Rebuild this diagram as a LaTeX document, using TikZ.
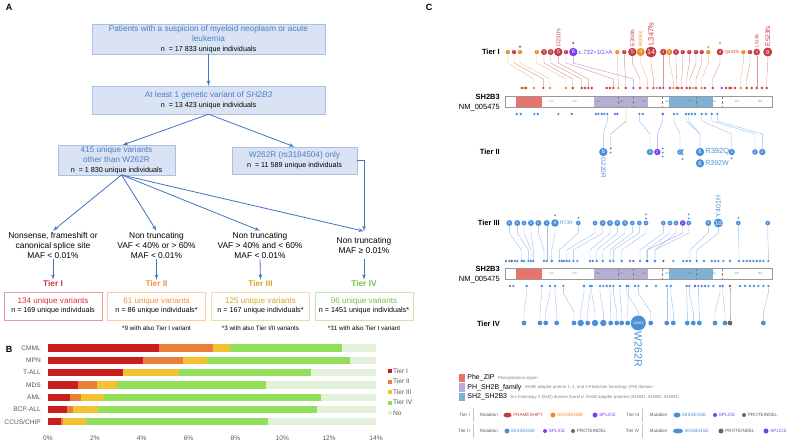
\documentclass[tikz,border=0pt]{standalone}
\usepackage{fontspec}
\setmainfont{Liberation Sans}
\usetikzlibrary{shapes,arrows,calc,positioning}
\definecolor{blueA}{HTML}{4472C4}
\definecolor{blueT}{HTML}{4A7FC8}
\definecolor{boxfill}{HTML}{DAE3F3}
\definecolor{boxline}{HTML}{A9BFE3}
\definecolor{greyT}{HTML}{595959}
\definecolor{tierone}{HTML}{D6333C}
\definecolor{tiertwo}{HTML}{F0903C}
\definecolor{tierthree}{HTML}{D4A72C}
\definecolor{tierfour}{HTML}{74C044}
\definecolor{barone}{HTML}{C81E1E}
\definecolor{bartwo}{HTML}{E8803A}
\definecolor{barthree}{HTML}{F2C230}
\definecolor{barfour}{HTML}{92E05A}
\definecolor{barno}{HTML}{E3F1DC}
\definecolor{fs}{HTML}{C43C43}
\definecolor{ns}{HTML}{F08A24}
\definecolor{sp}{HTML}{7B3FF2}
\definecolor{ms}{HTML}{4A8FD8}
\definecolor{pd}{HTML}{666666}
\definecolor{phe}{HTML}{E8736B}
\definecolor{phd}{HTML}{B7AED6}
\definecolor{shd}{HTML}{7FB0D5}
\tikzstyle{line} = [draw=blueA, line width=0.8pt, -latex']
\tikzstyle{flowbox} = [rectangle, draw=boxline, fill=boxfill, align=center, inner sep=1pt, text=blueT, font=\fontsize{8.2}{10}\selectfont]
\tikzstyle{tierbox} = [rectangle, draw, line width=0.6pt, fill=white, minimum width=98pt, minimum height=28pt, align=center, font=\fontsize{8.1}{9.5}\selectfont]
\tikzstyle{crit} = [align=center, inner sep=1pt, font=\fontsize{8.4}{10}\selectfont]
\tikzstyle{tierlab} = [inner sep=1pt, font=\bfseries\fontsize{8.3}{9}\selectfont]
\tikzstyle{note} = [inner sep=1pt, font=\fontsize{6.3}{7}\selectfont]
\tikzstyle{barlab} = [anchor=east, inner sep=0pt, text=greyT, font=\fontsize{6.6}{7}\selectfont]
\tikzstyle{dot} = [circle, inner sep=0pt, minimum size=2.6pt]
\tikzstyle{lolli} = [circle, inner sep=0pt, text=white]
\tikzstyle{tierC} = [anchor=east, inner sep=0pt, font=\bfseries\fontsize{7.5}{8}\selectfont]
\tikzstyle{legsq} = [rectangle, inner sep=0pt, minimum width=6pt, minimum height=8.5pt]
\tikzstyle{legname} = [anchor=west, inner sep=0pt, font=\fontsize{7}{8}\selectfont]
\tikzstyle{legdesc} = [anchor=west, inner sep=0pt, text=gray, font=\fontsize{4.3}{5}\selectfont]
\tikzstyle{tiny} = [anchor=west, inner sep=0pt, font=\fontsize{4.6}{5}\selectfont]
\pgfdeclarelayer{background}
\pgfsetlayers{background,main}
\newcommand{\nline}[1]{{\color{black}\fontsize{7.2}{8.5}\selectfont #1}}

\begin{document}
\begin{tikzpicture}[x=1pt, y=-1pt]
	\useasboundingbox (0,0) rectangle (790,442);
	
	% panel A
	\node[font=\bfseries\fontsize{9}{10}\selectfont] (letA) at (9,7) {A};
	\node [flowbox, minimum width=233pt, minimum height=28pt] (pat) at (208.5,39) {Patients with a suspicion of myeloid neoplasm or acute\\leukemia\\\nline{n~ = 17~833 unique individuals}};
	\node [flowbox, minimum width=233pt, minimum height=28pt] (gen) at (208.5,100) {At least 1 genetic variant of \textit{SH2B3}\\\nline{n~ = 13~423 unique individuals}};
	\node [flowbox, minimum width=117pt, minimum height=28pt] (oth) at (116.5,160) {415 unique variants\\other than W262R\\\nline{n~ = 1~830 unique individuals}};
	\node [flowbox, minimum width=125pt, minimum height=27pt] (wonly) at (294.5,160.5) {W262R (rs3184504) only\\\nline{n~ = 11~589 unique individuals}};
	
	\node [crit] (crit1) at (53,245) {Nonsense, frameshift or\\canonical splice site\\MAF < 0.01\%};
	\node [crit] (crit2) at (156.5,245) {Non truncating\\VAF < 40\% or > 60\%\\MAF < 0.01\%};
	\node [crit] (crit3) at (260,245) {Non truncating\\VAF > 40\% and < 60\%\\MAF < 0.01\%};
	\node [crit, inner ysep=5.5pt] (crit4) at (364,245) {Non truncating\\MAF ≥ 0.01\%};
	
	\node [tierlab, text=tierone] (lab1) at (53,284) {Tier I};
	\node [tierlab, text=tiertwo] (lab2) at (156.5,284) {Tier II};
	\node [tierlab, text=tierthree] (lab3) at (260.5,284) {Tier III};
	\node [tierlab, text=tierfour] (lab4) at (364,284) {Tier IV};
	
	\node [tierbox, draw=tierone!50] (box1) at (53,306) {\textcolor{tierone}{134 unique variants}\\\nline{n = 169 unique individuals}};
	\node [tierbox, draw=tiertwo!45] (box2) at (156.5,306) {\textcolor{tiertwo}{61 unique variants}\\\nline{n = 86 unique individuals*}};
	\node [tierbox, draw=tierthree!40] (box3) at (260.5,306) {\textcolor{tierthree}{125 unique variants}\\\nline{n = 167 unique individuals*}};
	\node [tierbox, draw=tierfour!40] (box4) at (364,306) {\textcolor{tierfour}{96 unique variants}\\\nline{n = 1451 unique individuals*}};
	
	\node [note] (note2) at (156.5,328) {*9 with also Tier I variant};
	\node [note] (note3) at (260.5,328) {*3 with also Tier I/II variants};
	\node [note] (note4) at (364,328) {*31 with also Tier I variant};
	
	\path [line] (pat.south) -- (gen.north);
	\path [line] (gen.south) -- ([xshift=6pt]oth.north);
	\path [line] (gen.south) -- (wonly.north);
	\path [line] ([xshift=5pt]oth.south) -- (crit1.north);
	\path [line] ([xshift=5pt]oth.south) -- (crit2.north);
	\path [line] ([xshift=5pt]oth.south) -- (crit3.north);
	\path [line] ([xshift=5pt]oth.south) -- (crit4.north);
	\path [line] (wonly.east) -| (crit4.north);
	\foreach \k in {1,2,3,4}
		\path [line] (crit\k.south) -- (lab\k.north);
	
	% panel B
	\node[font=\bfseries\fontsize{9}{10}\selectfont] (letB) at (9,349) {B};
	\foreach \nm/\ra/\ob/\yc/\gd [count=\i] in {CMML/4.75/7.03/7.77/12.53, MPN/4.07/5.75/6.8/12.89, T-ALL/3.21/3.21/5.6/11.21, MDS/1.29/2.08/2.93/9.3, AML/0.94/1.41/2.39/11.64, BCP-ALL/0.8/1.05/2.12/11.47, {CCUS/CHIP}/0.54/0.63/1.61/9.38}
	{
		\pgfmathsetmacro\yy{348+12.3*(\i-1)}
		\node[barlab] (cat\i) at (41,\yy) {\nm};
		\fill[barno] (48,{\yy-3.6}) rectangle (376,{\yy+3.6});
		\fill[barfour] (48,{\yy-3.6}) rectangle ({48+\gd*23.43},{\yy+3.6});
		\fill[barthree] (48,{\yy-3.6}) rectangle ({48+\yc*23.43},{\yy+3.6});
		\fill[bartwo] (48,{\yy-3.6}) rectangle ({48+\ob*23.43},{\yy+3.6});
		\fill[barone] (48,{\yy-3.6}) rectangle ({48+\ra*23.43},{\yy+3.6});
	}
	\foreach \tk in {0,2,...,14}
		\node[barlab, anchor=center] (tick\tk) at ({48+\tk*23.43},438) {\tk\%};
	\foreach \lg/\cl [count=\j] in {Tier I/barone, Tier II/bartwo, Tier III/barthree, Tier IV/barfour, No/barno}
	{
		\pgfmathsetmacro\ly{371+10.5*(\j-1)}
		\node[rectangle, fill=\cl, minimum size=4pt, inner sep=0pt] (lg\j) at (389.5,\ly) {};
		\node[barlab, anchor=west] at (393,\ly) {\lg};
	}
	
	% panel C
	\node[font=\bfseries\fontsize{9}{10}\selectfont] (letC) at (429,7) {C};
	\foreach \yb in {96,268}
	{
		\fill[white] (505,\yb) rectangle (772,{\yb+11});
		\fill[phe] (516,\yb) rectangle (541.7,{\yb+11});
		\fill[phd] (594,\yb) rectangle (648,{\yb+11});
		\fill[shd] (669,\yb) rectangle (713,{\yb+11});
		\foreach \dl in {618.3,633.3,662.3,695.7,722.3}
			\draw[densely dashed, gray, line width=0.3pt] (\dl,\yb) -- (\dl,{\yb+11});
		\foreach \aa in {50,100,...,550}
			\node[inner sep=0pt, text=gray, font=\fontsize{2.6}{3}\selectfont] at ({505+\aa*0.464},{\yb+5.5}) {\aa};
		\draw[gray!80, line width=0.5pt] (505,\yb) rectangle (772,{\yb+11});
		\node[tierC] at (500,{\yb+1}) {SH2B3};
		\node[tierC, font=\fontsize{7.5}{8}\selectfont] at (500,{\yb+12}) {NM\_005475};
	}
	\node[tierC] (tierI) at (500,52) {Tier I};
	\node[tierC] (tierII) at (500,152) {Tier II};
	\node[tierC] (tierIII) at (500,223) {Tier III};
	\node[tierC] (tierIV) at (500,324) {Tier IV};
	
	% tier I
	\foreach \xd/\ty in {521.7/fs, 524/ns, 526/fs, 585/fs, 591.7/fs, 606.7/fs, 610/fs, 647.3/sp, 656.7/ns, 660/sp, 670/fs, 678.3/fs, 693.3/ns, 705/fs, 721.7/sp, 726/fs, 729.3/fs, 731/fs, 735/fs, 751.7/fs, 762/fs}
		\node[dot, fill=\ty] at (\xd,88) {};
	\foreach \cx/\dx/\r/\ty/\lab [count=\i] in {507.7/534/2.2/ns/2, 514/543.3/2.2/fs/2, 520/550/2.2/ns/2, 536.7/566/2.2/ns/2, 544/572.7/3/fs/3, 550.7/581.7/3/fs/3, 558.3/588.3/4.2/fs/5, 566/613.3/2.2/fs/2, 573.3/633.3/4.2/sp/6, 617.3/618.3/2.2/ns/2, 624.3/625.7/2.2/fs/2, 632.3/640/4.2/fs/5, 640.7/647.3/4/ns/4, 651/653.3/5.5/fs/14, 663.3/663.3/3.2/fs/4, 669.3/673.3/3/ns/3, 676/676.7/3/fs/3, 682.7/681.7/2.2/fs/2, 689.3/686.7/2.2/fs/2, 696/690/2.2/fs/2, 701.7/696/2.2/fs/2, 708.3/701.7/2.2/ns/2, 720/712.7/3.3/fs/4, 743.3/740.7/2.2/ns/2, 750/746.7/2.2/fs/2, 756.7/756.7/3.3/fs/4, 767.7/766.7/4.5/fs/9}
	{
		\pgfmathsetmacro\fsz{1.3*\r}
		\node[dot, fill=\ty] (t1d\i) at (\dx,88) {};
		\node[lolli, fill=\ty, minimum size={2*\r pt}, font=\fontsize{\fsz}{\fsz}\selectfont] (t1c\i) at (\cx,52) {\lab};
		\begin{pgfonlayer}{background}
			\draw[\ty!55, line width=0.4pt] (t1c\i) -- (t1c\i |- 0,63) -- (t1d\i |- 0,79) -- (t1d\i);
		\end{pgfonlayer}
	}
	\foreach \xd/\yd/\ty in {520/46.7/fs, 573.3/43/fs, 708.3/47/ns, 720/43/ns}
		\node[dot, fill=\ty, minimum size=2.2pt] at (\xd,\yd) {};
	\node[rotate=90, anchor=west, inner sep=0.8pt, text=fs, font=\fontsize{7.5}{8}\selectfont] at (t1c14.north) {L347fs};
	\node[rotate=90, anchor=west, inner sep=0.8pt, text=fs, font=\fontsize{6.5}{7}\selectfont] at (t1c27.north) {E523fs};
	\node[rotate=90, anchor=west, inner sep=0.8pt, text=fs, font=\fontsize{5.5}{6}\selectfont] at (t1c12.north) {E304fs};
	\node[rotate=90, anchor=west, inner sep=0.8pt, text=ns, font=\fontsize{5}{6}\selectfont] at (t1c13.north) {R308X};
	\node[rotate=90, anchor=west, inner sep=0.8pt, text=fs, font=\fontsize{5.5}{6}\selectfont] at (t1c7.north) {D231fs};
	\node[rotate=90, anchor=west, inner sep=0.8pt, text=fs, font=\fontsize{4.5}{5}\selectfont] at (t1c26.north) {L510fs};
	\node[anchor=west, inner sep=0.8pt, text=sp, font=\fontsize{6}{7}\selectfont] at (t1c9.east) {c.732+1G>A};
	\node[anchor=west, inner sep=0.8pt, text=fs, font=\fontsize{4.5}{5}\selectfont] at (t1c23.east) {Q442fs};
	
	% tier II
	\foreach \xd/\ty in {516.7/ms, 520.7/ms, 534.3/ms, 537.7/ms, 558.3/ms, 571.7/ms, 596/ms, 598.3/ms, 601.7/ms, 604.3/ms, 615/ms, 617.3/sp, 642.7/ms, 677.3/ms, 691.7/ms, 695/ms, 706/ms}
		\node[dot, fill=\ty] at (\xd,114) {};
	\foreach \cx/\cy/\dx/\r/\ty/\lab [count=\i] in {603.3/152/607.3/4.2/ms/6, 650/152/639.3/3.2/ms/3, 657.3/152/662.7/3.2/sp/2, 680/152/674/2.8/ms/2, 700/152/688.7/4.2/ms/8, 700/163.3/686/4.2/ms/6, 731.7/152/701.7/3.2/ms/3, 755/152/711.7/2.8/ms/2, 762.3/152/717.3/3.2/ms/3}
	{
		\pgfmathsetmacro\fsz{1.3*\r}
		\node[dot, fill=\ty] (t2d\i) at (\dx,114) {};
		\node[lolli, fill=\ty, minimum size={2*\r pt}, font=\fontsize{\fsz}{\fsz}\selectfont] (t2c\i) at (\cx,\cy) {\lab};
		\begin{pgfonlayer}{background}
			\draw[\ty!55, line width=0.4pt] (t2c\i) -- (t2c\i |- 0,134) -- (t2d\i |- 0,121) -- (t2d\i);
		\end{pgfonlayer}
	}
	\node[dot, fill=pd, minimum size=2pt] (t2pd) at (610.7,148.3) {};
	\coordinate (t2pdend) at (626,107.5);
	\begin{pgfonlayer}{background}
		\draw[pd!60, line width=0.4pt] (t2pd) -- (t2pd |- 0,134) -- (t2pdend |- 0,121) -- (t2pdend);
	\end{pgfonlayer}
	\foreach \xd/\yd in {610.7/152.7, 662.7/148.7, 662.7/152.7, 662.7/156.7, 682.7/150, 682.7/154.3, 682.7/159, 731.7/158.3}
		\node[dot, fill=ms, minimum size=2pt] at (\xd,\yd) {};
	\node[rotate=-90, anchor=west, inner sep=0.8pt, text=ms, font=\fontsize{6.5}{7}\selectfont] at (t2c1.south) {G220R};
	\node[anchor=west, inner sep=0.8pt, text=ms, font=\fontsize{7.5}{8}\selectfont] at (t2c5.east) {R392Q};
	\node[anchor=west, inner sep=0.8pt, text=ms, font=\fontsize{7}{8}\selectfont] at (t2c6.east) {R392W};
	
	% tier III
	\foreach \xd/\ty in {506/ms, 509.3/ms, 511.7/pd, 515/ms, 517.3/ms, 524/ms, 551.7/ms, 561.7/ms, 564/ms, 569.3/ms, 577.3/ms, 592.7/ms, 630/ms, 633.3/sp, 663.3/pd, 673.3/ms, 683.3/ms, 686.7/ms, 704/ms, 711.7/ms, 715/ms, 718.3/ms, 723.3/ms, 730/ms, 743.3/ms, 746.7/ms, 750/ms, 753.3/ms, 756.7/ms, 760/ms, 763.3/ms}
		\node[dot, fill=\ty] at (\xd,261) {};
	\foreach \cx/\dx/\r/\ty/\lab [count=\i] in {509.3/521.7/3/ms/3, 517.3/528.3/3/ms/3, 524/531/2.4/ms/2, 531/533.3/3/ms/3, 538.3/544/3/ms/3, 546.7/546.7/3/ms/3, 555/551.7/3.8/ms/4, 578.3/559.3/2.4/ms/2, 595/566.7/2.4/ms/2, 602.7/573.3/3/ms/3, 610/590/3/ms/3, 617.3/596.7/3/ms/3, 625/602.7/3/ms/3, 632.3/610/2.4/ms/2, 639.3/613.3/2.4/ms/2, 646/621.7/2.4/ms/2, 663.3/640/2.4/ms/2, 670/646.7/2.4/ms/2, 676/655/2.4/ms/2, 682.7/647.3/2.8/sp/2, 688.7/655/2.4/ms/2, 708.3/690/3/ms/3, 718.3/696.7/4.5/ms/10, 738.3/739/2.4/ms/2, 767.7/768.3/2.4/ms/2}
	{
		\pgfmathsetmacro\fsz{1.3*\r}
		\node[dot, fill=\ty] (t3d\i) at (\dx,261) {};
		\node[lolli, fill=\ty, minimum size={2*\r pt}, font=\fontsize{\fsz}{\fsz}\selectfont] (t3c\i) at (\cx,223) {\lab};
		\begin{pgfonlayer}{background}
			\draw[\ty!55, line width=0.4pt] (t3c\i) -- (t3c\i |- 0,233) -- (t3d\i |- 0,250) -- (t3d\i);
		\end{pgfonlayer}
	}
	\foreach \xd/\yd in {555/215.3, 578.3/217.7, 646/214.3, 646/218.3, 688.7/214.3, 688.7/218.3, 738.3/218}
		\node[dot, fill=ms, minimum size=2pt] at (\xd,\yd) {};
	\node[anchor=west, inner sep=0.8pt, text=ms, font=\fontsize{5}{6}\selectfont] at (t3c7.east) {R73R};
	\node[rotate=90, anchor=west, inner sep=0.8pt, text=ms, font=\fontsize{7}{8}\selectfont] at (t3c23.north) {Y401H};
	
	% tier IV
	\foreach \xd/\ty in {510/ms, 513.3/ms, 584/ms, 603.3/ms, 606.7/ms, 635/ms, 646.7/ms, 656/ms, 695/sp, 701.7/ms, 705/ms, 708.3/ms, 713.3/ms, 740/ms, 745/ms, 750/ms, 754/ms, 758.3/ms, 763.3/ms}
		\node[dot, fill=\ty] at (\xd,286) {};
	\foreach \cx/\dx/\r/\ty [count=\i] in {524/526.7/2.4/ms, 540/541.7/2.4/ms, 545.7/550/2.4/ms, 556.7/555/2.4/ms, 574/563.3/2.4/ms, 580.7/584/3.2/ms, 587.7/590/2.4/ms, 595/591.7/3.2/ms, 603.3/600/3.2/ms, 610.7/610/2.4/ms, 616.7/613.3/2.4/ms, 621.7/620/2.4/ms, 627.7/628.3/2.4/ms, 650.7/638.3/2.4/ms, 666.7/666.7/2.4/ms, 673.3/670.7/2.4/ms, 687.3/686.7/2.4/ms, 693.3/689.3/2.4/ms, 699.3/698.3/2.4/ms, 715/720/2.4/ms, 725/722.7/2.4/ms, 730/730/2.4/pd, 763.3/768.3/2.4/ms}
	{
		\node[dot, fill=\ty] (t4d\i) at (\dx,286) {};
		\node[lolli, fill=\ty, minimum size={2*\r pt}] (t4c\i) at (\cx,323) {};
		\begin{pgfonlayer}{background}
			\draw[\ty!55, line width=0.4pt] (t4c\i) -- (t4c\i |- 0,312) -- (t4d\i |- 0,293) -- (t4d\i);
		\end{pgfonlayer}
	}
	\node[dot, fill=ms] (wdot) at (626.7,286) {};
	\node[lolli, fill=ms, minimum size=15pt, font=\fontsize{3.8}{4}\selectfont] (wbig) at (638.3,323) {13261};
	\begin{pgfonlayer}{background}
		\draw[ms!55, line width=0.4pt] (wbig) -- (wbig |- 0,312) -- (wdot |- 0,293) -- (wdot);
	\end{pgfonlayer}
	\node[rotate=-90, anchor=west, inner sep=1pt, text=ms, font=\fontsize{10.5}{11}\selectfont] at (wbig.south) {W262R};
	
	% domain legend
	\node[legsq, fill=phe] (sqphe) at (462,378) {};
	\node[legsq, fill=phd, below=0.6pt of sqphe] (sqph) {};
	\node[legsq, fill=shd, below=0.6pt of sqph] (sqsh) {};
	\node[legname, right=2pt of sqphe] (nphe) {Phe\_ZIP};
	\node[legname, right=2pt of sqph] (nph) {PH\_SH2B\_family};
	\node[legname, right=2pt of sqsh] (nsh) {SH2\_SH2B3};
	\node[legdesc, right=3pt of nphe] {Phenylalanine zipper};
	\node[legdesc, right=3pt of nph] {SH2B adapter protein 1, 2, and 3 Pleckstrin homology (PH) domain};
	\node[legdesc, right=3pt of nsh] {Src homology 2 (SH2) domain found in SH2B adapter proteins (SH2B1, SH2B2, SH2B3)};
	
	% mutation legend
	\foreach \tn/\xt/\yt in {Tier I/470/415, Tier II/470/431, Tier III/639.5/415, Tier IV/639.5/431}
	{
		\node[tiny, anchor=east, text=greyT] at (\xt,\yt) {\tn};
		\draw[gray!45, line width=0.5pt] ({\xt+3},{\yt-7}) -- ({\xt+3},{\yt+7});
		\node[tiny, text=greyT] at ({\xt+10},\yt) {Mutation};
	}
	\node[ellipse, fill=fs, minimum width=8pt, minimum height=5pt, inner sep=0pt] (ifs) at (507.5,415) {};
	\node[tiny, text=fs, right=1.5pt of ifs] {FRAMESHIFT};
	\node[dot, fill=ns, minimum size=5pt] (ins) at (553,415) {};
	\node[tiny, text=ns, right=1.5pt of ins] {NONSENSE};
	\node[dot, fill=sp, minimum size=5pt] (isp1) at (595,415) {};
	\node[tiny, text=sp, right=1.5pt of isp1] {SPLICE};
	\node[ellipse, fill=ms, minimum width=7pt, minimum height=5pt, inner sep=0pt] (ims3) at (677,415) {};
	\node[tiny, text=ms, right=1.5pt of ims3] {MISSENSE};
	\node[dot, fill=sp, minimum size=4pt] (isp3) at (715,415) {};
	\node[tiny, text=sp, right=1.5pt of isp3] {SPLICE};
	\node[dot, fill=pd, minimum size=4pt] (ipd3) at (744,415) {};
	\node[tiny, text=greyT, right=1.5pt of ipd3] {PROTEINDEL};
	\node[dot, fill=ms, minimum size=5pt] (ims2) at (507,431) {};
	\node[tiny, text=ms, right=1.5pt of ims2] {MISSENSE};
	\node[dot, fill=sp, minimum size=4pt] (isp2) at (545,431) {};
	\node[tiny, text=sp, right=1.5pt of isp2] {SPLICE};
	\node[dot, fill=pd, minimum size=4pt] (ipd2) at (573,431) {};
	\node[tiny, text=greyT, right=1.5pt of ipd2] {PROTEINDEL};
	\node[ellipse, fill=ms, minimum width=10pt, minimum height=5pt, inner sep=0pt] (ims4) at (678,431) {};
	\node[tiny, text=ms, right=1.5pt of ims4] {MISSENSE};
	\node[dot, fill=pd, minimum size=5pt] (ipd4) at (721,431) {};
	\node[tiny, text=greyT, right=1.5pt of ipd4] {PROTEINDEL};
	\node[dot, fill=sp, minimum size=5pt] (isp4) at (766,431) {};
	\node[tiny, text=sp, right=1.5pt of isp4] {SPLICE};
\end{tikzpicture}
\end{document}
